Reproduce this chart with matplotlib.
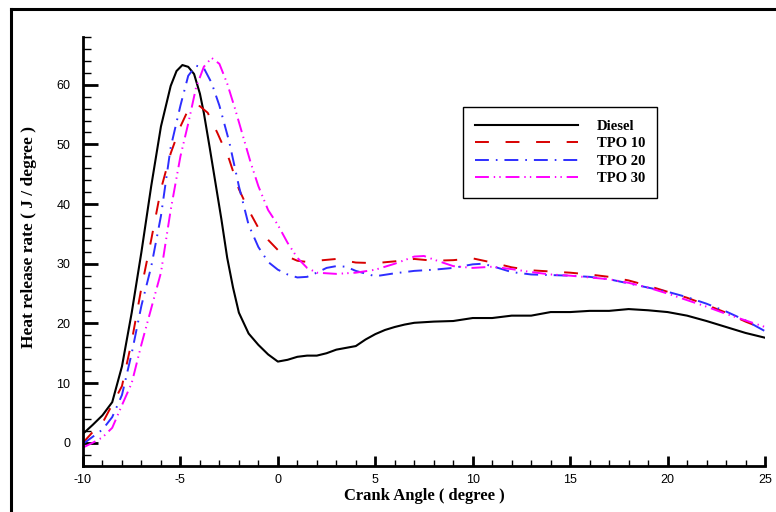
import matplotlib
matplotlib.use("Agg")
import matplotlib.pyplot as plt
from matplotlib.lines import Line2D
from matplotlib.ticker import MultipleLocator

# ---------------- data ----------------
diesel_x = [-10, -9.5, -9, -8.5, -8, -7.5, -7, -6.5, -6, -5.5, -5.2, -4.9, -4.6, -4.3, -4.0,
            -3.8, -3.5, -3.2, -2.9, -2.6, -2.3, -2.0, -1.5, -1, -0.5, 0, 0.5, 1, 1.5, 2, 2.5,
            3, 3.5, 4, 4.5, 5, 5.5, 6, 6.5, 7, 8, 9, 10, 11, 12, 13, 14, 15, 16, 17, 18, 19,
            20, 21, 22, 23, 24, 25]
diesel_y = [1.5, 3.0, 4.6, 6.8, 12.8, 21.8, 32.0, 43.0, 53.0, 59.8, 62.3, 63.3, 63.0, 61.8, 58.5,
            55.3, 49.5, 43.5, 37.5, 31.0, 26.0, 21.8, 18.3, 16.4, 14.8, 13.6, 13.9, 14.4, 14.6, 14.6, 15.0,
            15.6, 15.9, 16.2, 17.3, 18.2, 18.9, 19.4, 19.8, 20.1, 20.3, 20.4, 20.9, 20.9, 21.3, 21.3, 21.9,
            21.9, 22.1, 22.1, 22.4, 22.2, 21.9, 21.3, 20.4, 19.4, 18.4, 17.6]

tpo10_x = [-10, -9.5, -9, -8.5, -8, -7.5, -7, -6.5, -6, -5.5, -5, -4.6, -4.3, -4, -3.6, -3.1,
           -2.5, -2, -1.5, -1, -0.5, 0, 0.5, 1, 1.5, 2, 3, 4, 5, 6, 7, 8, 9, 10, 11, 12, 13, 14,
           15, 16, 17, 18, 19, 20, 21, 22, 23, 24, 25]
tpo10_y = [0.0, 1.8, 3.3, 6.4, 9.5, 17.0, 26.0, 34.0, 42.5, 48.5, 53.0, 55.8, 56.6, 56.4, 55.3, 51.9,
           47.5, 42.5, 39.0, 36.0, 34.0, 32.3, 31.2, 30.5, 30.3, 30.5, 30.8, 30.2, 30.1, 30.4, 30.8,
           30.5, 30.6, 30.9, 30.2, 29.4, 28.9, 28.7, 28.5, 28.2, 27.8, 27.2, 26.3, 25.3, 24.3, 23.1,
           21.8, 20.3, 19.0]

tpo20_x = [-10, -9.5, -9, -8.5, -8, -7.5, -7, -6.5, -6, -5.5, -5, -4.6, -4.2, -3.8, -3.4, -3,
           -2.5, -2, -1.5, -1, -0.5, 0, 0.5, 1, 1.5, 2, 2.5, 3, 3.5, 4, 5, 6, 7, 8, 9, 10, 10.5,
           11, 12, 13, 14, 15, 16, 17, 18, 19, 20, 21, 22, 23, 24, 25]
tpo20_y = [-0.2, 1.0, 2.2, 4.3, 8.0, 15.0, 23.0, 29.5, 38.0, 49.5, 56.5, 61.5, 63.2, 62.8, 60.3, 56.5,
           50.5, 43.0, 36.5, 32.8, 30.3, 29.0, 28.2, 27.7, 27.8, 28.5, 29.3, 29.6, 29.5, 28.8, 27.9,
           28.4, 28.8, 29.0, 29.3, 29.9, 30.0, 29.6, 28.6, 28.2, 28.1, 28.0, 27.8, 27.4, 26.7, 26.0,
           25.3, 24.4, 23.3, 22.0, 20.5, 18.7]

tpo30_x = [-10, -9.5, -9, -8.5, -8, -7.5, -7, -6.5, -6, -5.5, -5, -4.6, -4.2, -3.8, -3.4, -3.0,
           -2.6, -2.2, -1.8, -1.4, -1, -0.5, 0, 0.5, 1, 1.5, 2, 3, 4, 5, 6, 7, 7.5, 8, 9, 10, 11,
           12, 13, 14, 15, 16, 17, 18, 19, 20, 21, 22, 23, 24, 25]
tpo30_y = [-0.8, 0.0, 0.9, 2.5, 6.3, 10.0, 16.5, 22.5, 28.5, 39.0, 48.0, 53.5, 59.5, 63.0, 64.5, 63.5,
           60.2, 56.0, 51.5, 47.0, 43.0, 39.0, 36.5, 33.5, 31.0, 29.3, 28.5, 28.3, 28.5, 29.0, 30.0,
           31.2, 31.3, 30.7, 29.6, 29.3, 29.5, 29.1, 28.6, 28.2, 28.0, 27.7, 27.4, 26.8, 26.0, 25.0,
           23.9, 22.8, 21.6, 20.5, 19.4]

series_names = ["Diesel", "TPO 10", "TPO 20", "TPO 30"]
x_label = "Crank Angle ( degree )"
y_label = "Heat release rate ( J / degree )"

# ---------------- style ----------------
plt.rcParams['axes.unicode_minus'] = False
plt.rcParams['lines.scale_dashes'] = False

colors = ["black", "#d80000", "#2e2eff", "#ff00ff"]
dashes = [None, (10, 12), (10, 5, 1.2, 5), (10, 3.5, 1.0, 3.0, 1.0, 3.5)]

fig = plt.figure(figsize=(7.76, 5.12), dpi=100)
ax = fig.add_axes([83 / 776, 1 - 466 / 512, (765 - 83) / 776, (466 - 37) / 512])

data = [(diesel_x, diesel_y), (tpo10_x, tpo10_y), (tpo20_x, tpo20_y), (tpo30_x, tpo30_y)]
handles = []
for (xs, ys), name, c, d in zip(data, series_names, colors, dashes):
    lw = 1.5 if d is None else 1.4
    ln, = ax.plot(xs, ys, color=c, lw=lw, label=name)
    if d is not None:
        ln.set_dashes(d)
    h = Line2D([], [], color=c, lw=lw)
    if d is not None:
        h.set_dashes(d)
    handles.append(h)

ax.set_xlim(-10, 25)
ax.set_ylim(-3.9, 68)

ax.xaxis.set_major_locator(MultipleLocator(5))
ax.xaxis.set_minor_locator(MultipleLocator(1))
ax.yaxis.set_major_locator(MultipleLocator(10))
ax.yaxis.set_minor_locator(MultipleLocator(2))
ax.set_yticks([0, 10, 20, 30, 40, 50, 60])

for s in ["top", "right"]:
    ax.spines[s].set_visible(False)
for s in ["left", "bottom"]:
    ax.spines[s].set_linewidth(2.0)

ax.tick_params(axis="y", which="major", direction="in", length=11, width=2.0, pad=9,
               labelsize=9)
ax.tick_params(axis="y", which="minor", direction="in", length=6, width=1.0)
ax.tick_params(axis="x", which="major", direction="in", length=7, width=2.0, pad=6,
               labelsize=9)
ax.tick_params(axis="x", which="minor", direction="in", length=4, width=1.0)
for lab in ax.get_xticklabels() + ax.get_yticklabels():
    lab.set_fontfamily("Liberation Sans")

ax.set_xlabel(x_label, fontfamily="Liberation Serif", fontweight="bold", fontsize=12,
              labelpad=1)
ax.set_ylabel(y_label, fontfamily="Liberation Serif", fontweight="bold", fontsize=12.5)
ax.yaxis.set_label_coords(-0.0674, 0.534)

leg = ax.legend(handles, series_names, loc="upper left",
                bbox_to_anchor=(463 / 776, 1 - 107 / 512), bbox_transform=fig.transFigure,
                borderaxespad=0, handlelength=7.06, handletextpad=1.25, labelspacing=0.3,
                borderpad=0.85, fancybox=False, shadow=False, framealpha=1,
                prop={"family": "Liberation Serif", "weight": "bold", "size": 10.5})
leg.get_frame().set_edgecolor("black")
leg.get_frame().set_linewidth(1.0)

# outer frame (left and top border)
fig.add_artist(Line2D([11 / 776, 11 / 776], [0, 1 - 9 / 512], transform=fig.transFigure,
                      color="black", lw=2.2))
fig.add_artist(Line2D([11 / 776, 1], [1 - 9 / 512, 1 - 9 / 512], transform=fig.transFigure,
                      color="black", lw=2.2))

fig.savefig("out.png", dpi=100)
